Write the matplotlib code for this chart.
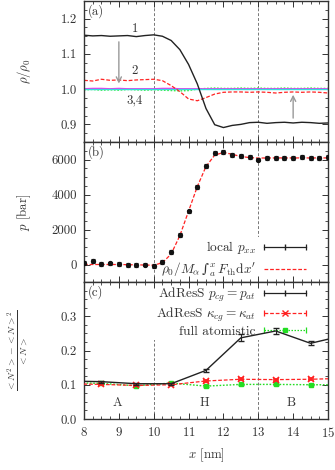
import matplotlib
matplotlib.use("Agg")
import matplotlib.pyplot as plt
from matplotlib.lines import Line2D
from matplotlib.legend_handler import HandlerBase
from matplotlib.ticker import MultipleLocator, FixedLocator

plt.rcParams['font.family'] = ['cmr10', 'DejaVu Serif']
plt.rcParams['mathtext.fontset'] = 'cm'
plt.rcParams['axes.formatter.use_mathtext'] = True
plt.rcParams['font.size'] = 9.2

# ---------------- data ----------------
x_a = [8.0, 8.25, 8.5, 8.75, 9.0, 9.25, 9.5, 9.75, 10.0, 10.25, 10.5, 10.75, 11.0, 11.25,
       11.5, 11.75, 12.0, 12.25, 12.5, 12.75, 13.0, 13.25, 13.5, 13.75, 14.0, 14.25, 14.5, 14.75, 15.0]
rho_1 = [1.153, 1.151, 1.152, 1.150, 1.151, 1.152, 1.149, 1.152, 1.154, 1.150, 1.138, 1.112, 1.070, 1.015,
         0.945, 0.899, 0.891, 0.897, 0.900, 0.905, 0.906, 0.903, 0.905, 0.906, 0.904, 0.906, 0.905, 0.903, 0.904]
rho_2 = [1.025, 1.023, 1.028, 1.025, 1.026, 1.024, 1.026, 1.027, 1.028, 1.024, 1.010, 0.993, 0.972, 0.967,
         0.976, 0.986, 0.991, 0.992, 0.992, 0.991, 0.992, 0.991, 0.989, 0.991, 0.992, 0.991, 0.992, 0.991, 0.989]
rho_3 = [0.998, 0.999, 0.997, 0.998, 0.997, 0.999, 0.998, 0.997, 0.998, 0.997, 0.996, 0.995, 0.996, 1.000,
         1.002, 1.003, 1.002, 1.002, 1.003, 1.002, 1.003, 1.002, 1.002, 1.003, 1.002, 1.002, 1.003, 1.002, 1.002]
rho_4m = [1.001, 1.002, 1.002, 1.001, 1.002, 1.001, 1.001, 1.001, 1.001, 1.002, 1.002, 1.001, 1.001, 1.001,
          1.001, 1.001, 1.001, 1.001, 1.001, 1.001, 1.001, 1.001, 1.001, 1.001, 1.001, 1.001, 1.001, 1.001, 1.001]
rho_4c = [1.000, 1.000, 1.000, 1.000, 1.000, 1.000, 1.000, 1.000, 1.000, 1.000, 1.000, 1.000, 1.000, 1.000,
          1.000, 1.000, 1.000, 1.000, 1.000, 1.000, 1.000, 1.000, 1.000, 1.000, 1.000, 1.000, 1.000, 1.000, 1.000]

x_b = x_a
p_local = [100, 190, 50, 60, 50, -50, -50, 0, -100, 150, 700, 1700, 3030, 4450,
           5650, 6350, 6450, 6280, 6190, 6130, 6000, 6100, 6100, 6110, 6100, 6150, 6100, 6100, 6120]
p_local_err = [110] * len(p_local)
p_th = [0, 0, 0, 0, 0, -10, -20, -30, -40, 100, 600, 1650, 3050, 4450,
        5600, 6250, 6400, 6300, 6170, 6110, 6080, 6090, 6090, 6090, 6090, 6090, 6090, 6090, 6090]

x_c = [7.5, 8.5, 9.5, 10.5, 11.5, 12.5, 13.5, 14.5, 15.5]
fl_pcg = [0.111, 0.109, 0.103, 0.103, 0.142, 0.237, 0.257, 0.221, 0.245]
fl_pcg_err = [0.003, 0.003, 0.003, 0.003, 0.004, 0.010, 0.008, 0.006, 0.006]
fl_kcg = [0.103, 0.101, 0.098, 0.100, 0.111, 0.116, 0.115, 0.116, 0.119]
fl_kcg_err = [0.002, 0.002, 0.002, 0.002, 0.003, 0.003, 0.003, 0.003, 0.003]
fl_full = [0.106, 0.104, 0.097, 0.105, 0.096, 0.101, 0.101, 0.100, 0.100]
fl_full_err = [0.002, 0.002, 0.002, 0.002, 0.002, 0.002, 0.002, 0.002, 0.002]

boundaries = [10, 13]
region_labels = ['A', 'H', 'B']
region_x = [8.95, 11.45, 13.95]

# ---------------- figure ----------------
fig = plt.figure(figsize=(3.35, 4.70), dpi=100)
L, R = 84 / 335, 328 / 335
W = R - L
def fy(px):
    return 1 - px / 470
ax_a = fig.add_axes([L, fy(142), W, fy(1) - fy(142)])
ax_b = fig.add_axes([L, fy(282), W, fy(142) - fy(282)])
ax_c = fig.add_axes([L, fy(419), W, fy(282) - fy(419)])

fg = '#333333'
for ax in (ax_a, ax_b, ax_c):
    ax.set_xlim(8, 15)
    ax.xaxis.set_major_locator(MultipleLocator(1))
    ax.xaxis.set_minor_locator(MultipleLocator(0.25))
    ax.tick_params(which='both', direction='in', top=True, right=True, colors=fg, labelcolor=fg)
    ax.tick_params(which='major', length=4.5, width=0.7, pad=5)
    ax.tick_params(which='minor', length=2.5, width=0.6)
    for s in ax.spines.values():
        s.set_color(fg)
        s.set_linewidth(1.0)
    for b in boundaries:
        ax.axvline(b, color='#777777', ls=(0, (3, 2)), lw=0.7, zorder=0)

ax_a.tick_params(labelbottom=False)
ax_b.tick_params(labelbottom=False)

# panel a
ax_a.set_ylim(0.85, 1.25)
ax_a.yaxis.set_major_locator(FixedLocator([0.9, 1.0, 1.1, 1.2]))
ax_a.yaxis.set_minor_locator(MultipleLocator(0.025))
ax_a.yaxis.set_major_formatter(plt.FuncFormatter(lambda v, p: f'{v:.1f}'))
ax_a.plot(x_a, rho_3, color='#33ee33', ls=(0, (1.2, 1.2)), lw=1.0)
ax_a.plot(x_a, rho_4m, color='#ee33ee', lw=1.0)
ax_a.plot(x_a, rho_4c, color='#33dddd', lw=1.0)
ax_a.plot(x_a, rho_2, color='#ff2222', ls=(0, (3, 1.5)), lw=0.9)
ax_a.plot(x_a, rho_1, color='#222222', lw=1.0)
ax_a.annotate('', xy=(9.0, 1.008), xytext=(9.0, 1.142),
              arrowprops=dict(arrowstyle='->', color='#999999', lw=1.0))
ax_a.annotate('', xy=(14.0, 0.992), xytext=(14.0, 0.91),
              arrowprops=dict(arrowstyle='->', color='#999999', lw=1.0))
ax_a.text(9.46, 1.172, '1', ha='center', va='center', color=fg)
ax_a.text(9.46, 1.053, '2', ha='center', va='center', color=fg)
ax_a.text(9.46, 0.968, '3,4', ha='center', va='center', color=fg)
ax_a.text(0.015, 0.975, '(a)', transform=ax_a.transAxes, ha='left', va='top', color=fg)
ax_a.set_ylabel(r'$\rho/\rho_0$', color=fg)
ax_a.yaxis.set_label_coords(-0.21, 0.5)

# panel b
ax_b.set_ylim(-1000, 7000)
ax_b.yaxis.set_major_locator(FixedLocator([0, 2000, 4000, 6000]))
ax_b.yaxis.set_minor_locator(MultipleLocator(500))
ax_b.yaxis.set_major_formatter(plt.FuncFormatter(lambda v, p: f'{v:.0f}'))
ax_b.plot(x_b, p_th, color='#ff2222', ls=(0, (3, 1.5)), lw=0.9, zorder=2)
ax_b.errorbar(x_b, p_local, yerr=p_local_err, fmt='o', ms=2.8, color='#111111',
              ecolor='#111111', elinewidth=0.8, capsize=1.6, capthick=0.8, zorder=3)
ax_b.text(0.015, 0.975, '(b)', transform=ax_b.transAxes, ha='left', va='top', color=fg)
ax_b.set_ylabel(r'$p$ [bar]', color=fg)
ax_b.yaxis.set_label_coords(-0.21, 0.5)


class CapHandler(HandlerBase):
    def __init__(self, color, ls, marker=None, ms=4, caps=True, mfc=None):
        super().__init__()
        self.color, self.ls, self.marker, self.ms, self.caps, self.mfc = color, ls, marker, ms, caps, mfc

    def create_artists(self, legend, orig_handle, xdescent, ydescent, width, height, fontsize, trans):
        y = height / 2 - ydescent
        x0, x1 = -xdescent, width - xdescent
        arts = [Line2D([x0, x1], [y, y], color=self.color, ls=self.ls, lw=0.9)]
        if self.caps:
            arts.append(Line2D([x0, x1], [y, y], ls='none', marker='|', ms=5, mew=0.9, color=self.color))
        if self.marker:
            arts.append(Line2D([(x0 + x1) / 2], [y], ls='none', marker=self.marker, ms=self.ms,
                               mew=1.0, color=self.color, mfc=self.mfc or self.color))
        for a in arts:
            a.set_transform(trans)
        return arts


class H1: pass
class H2: pass
class H3: pass
class H4: pass
class H5: pass


def style_legend(leg):
    fr = leg.get_frame()
    fr.set_edgecolor('none')
    fr.set_facecolor('white')
    fr.set_alpha(1)
    leg.set_zorder(1)
    for t in leg.get_texts():
        t.set_color(fg)


h_local, h_th = H1(), H2()
leg_b = ax_b.legend([h_local, h_th],
                    [r'local $p_{xx}$', r'$\rho_0/M_\alpha\,$∫${}_a^x\, F_{\rm th}{\rm d}x^\prime$'],
                    handler_map={H1: CapHandler('#222222', '-', marker='|', ms=5),
                                 H2: CapHandler('#ff2222', (0, (3, 1.5)), caps=False)},
                    loc='lower right', bbox_to_anchor=(0.93, -0.01), markerfirst=False,
                    frameon=True, fancybox=False, borderpad=0.15, handlelength=3.2,
                    handletextpad=0.6, labelspacing=0.3, borderaxespad=0.2, fontsize=9.6)
style_legend(leg_b)
leg_b.get_texts()[1].set_fontfamily(['DejaVu Serif'])

# panel c
ax_c.set_ylim(0, 0.4)
ax_c.yaxis.set_major_locator(FixedLocator([0.0, 0.1, 0.2, 0.3]))
ax_c.yaxis.set_minor_locator(MultipleLocator(0.025))
ax_c.yaxis.set_major_formatter(plt.FuncFormatter(lambda v, p: f'{v:.1f}'))
ax_c.errorbar(x_c, fl_full, yerr=fl_full_err, fmt='s', ls=(0, (1.2, 1.2)), lw=1.0, ms=3.3,
              color='#22dd22', ecolor='#22dd22', capsize=2, elinewidth=0.8, zorder=2)
ax_c.errorbar(x_c, fl_kcg, yerr=fl_kcg_err, fmt='x', ls=(0, (3, 1.5)), lw=0.9, ms=4, mew=1.2,
              color='#ff2222', ecolor='#ff2222', capsize=2, elinewidth=0.8, zorder=3)
ax_c.errorbar(x_c, fl_pcg, yerr=fl_pcg_err, fmt='-', lw=1.0, color='#222222',
              ecolor='#222222', capsize=2, elinewidth=0.8, zorder=4)
for lab, xx in zip(region_labels, region_x):
    ax_c.text(xx, 0.046, lab, ha='center', va='center', color=fg)
ax_c.text(0.015, 0.975, '(c)', transform=ax_c.transAxes, ha='left', va='top', color=fg)
h_p, h_k, h_f = H3(), H4(), H5()
leg_c = ax_c.legend([h_p, h_k, h_f],
                    [r'AdResS $p_{cg}=p_{at}$', r'AdResS $\kappa_{cg}=\kappa_{at}$', 'full atomistic'],
                    handler_map={H3: CapHandler('#222222', '-', marker='|', ms=5),
                                 H4: CapHandler('#ff2222', (0, (3, 1.5)), marker='x', ms=4),
                                 H5: CapHandler('#22dd22', (0, (1.2, 1.2)), marker='s', ms=3.3)},
                    loc='upper right', bbox_to_anchor=(0.93, 1.005), markerfirst=False,
                    frameon=True, fancybox=False, borderpad=0.15, handlelength=3.2,
                    handletextpad=0.6, labelspacing=0.12, borderaxespad=0.2, fontsize=9.6)
style_legend(leg_c)
ax_c.set_ylabel(r'$\frac{{<}N^2{>}-{<}N{>}^2}{{<}N{>}}$', color=fg, fontsize=10)
ax_c.yaxis.set_label_coords(-0.22, 0.5)
ax_c.set_xlabel(r'$x$ [nm]', color=fg)
ax_c.xaxis.set_label_coords(0.5, -0.2)

fig.savefig('out.png', dpi=100)
